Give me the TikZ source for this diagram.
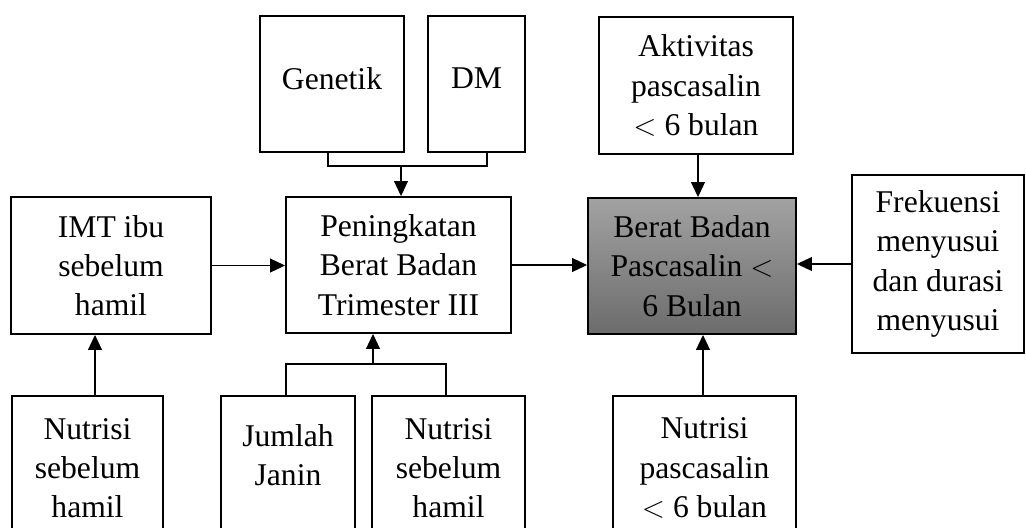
\documentclass[tikz,border=0pt]{standalone}
\usepackage{fontspec}
\setmainfont{Liberation Serif}
\usetikzlibrary{arrows.meta}
\definecolor{grtop}{RGB}{162,162,162}
\definecolor{grbot}{RGB}{108,108,108}

\begin{document}
\begin{tikzpicture}[x=0.2mm,y=-0.2mm,
    box/.style={draw,line width=1.1pt,align=center,inner sep=0pt,font=\fontsize{18}{22.3}\selectfont},
    ln/.style={line width=0.6pt},
    arr/.style={line width=0.6pt,-{Triangle[length=3mm,width=2.8mm]}}]
    \clip (0,0) rectangle (1026,527);
    \node[box,minimum width=28.8mm,minimum height=27.2mm] (genetik) at (332,84) {\raisebox{2.2mm}{Genetik}};
    \node[box,minimum width=19.4mm,minimum height=27.2mm] (dm) at (476.5,84) {\raisebox{2.2mm}{DM}};
    \node[box,minimum width=38.8mm,minimum height=27.4mm] (aktivitas) at (696,85.5) {Aktivitas\\pascasalin\\$<$ 6 bulan};
    \node[box,minimum width=40mm,minimum height=27.4mm] (imt) at (111,265.5) {IMT ibu\\sebelum\\hamil};
    \node[box,minimum width=45mm,minimum height=27.2mm] (naik) at (398.5,265) {Peningkatan\\Berat Badan\\Trimester III};
    \node[box,minimum width=41.6mm,minimum height=27.2mm,top color=grtop,bottom color=grbot] (berat) at (692,266) {Berat Badan\\Pascasalin $<$\\6 Bulan};
    \node[box,minimum width=34.4mm,minimum height=35.6mm] (frek) at (938,264) {Frekuensi\\menyusui\\dan durasi\\menyusui};
    \node[box,minimum width=30.2mm,minimum height=28.8mm] (nutrisiA) at (87.5,468) {Nutrisi\\sebelum\\hamil};
    \node[box,minimum width=26.8mm,minimum height=28.8mm] (jumlah) at (288,468) {Jumlah\\Janin\\[-2.5mm]\mbox{}};
    \node[box,minimum width=30.6mm,minimum height=28.8mm] (nutrisiB) at (448.5,468) {Nutrisi\\sebelum\\hamil};
    \node[box,minimum width=36.6mm,minimum height=28.8mm] (nutrisiC) at (704.5,468) {Nutrisi\\pascasalin\\$<$ 6 bulan};
    \coordinate (topj) at (401,166);
    \coordinate (botj) at (373,364);
    \draw[ln] ([xshift=-0.8mm]genetik.south) |- (topj) -| ([xshift=2.1mm]dm.south);
    \draw[arr] (topj) -- (topj |- naik.north);
    \draw[ln] ([xshift=-0.4mm]jumlah.north) |- (botj) -| ([xshift=-0.5mm]nutrisiB.north);
    \draw[arr] (botj) -- (botj |- naik.south);
    \draw[arr] ([xshift=1.5mm]nutrisiA.north) -- ([xshift=1.5mm]nutrisiA.north |- imt.south);
    \draw[arr] (imt.east) -- (imt.east -| naik.west);
    \draw[arr] (naik.east) -- (naik.east -| berat.west);
    \draw[arr] (frek.west) -- (frek.west -| berat.east);
    \draw[arr] ([xshift=0.4mm]aktivitas.south) -- ([xshift=0.4mm]aktivitas.south |- berat.north);
    \draw[arr] ([xshift=-0.3mm]nutrisiC.north) -- ([xshift=-0.3mm]nutrisiC.north |- berat.south);
\end{tikzpicture}
\end{document}
